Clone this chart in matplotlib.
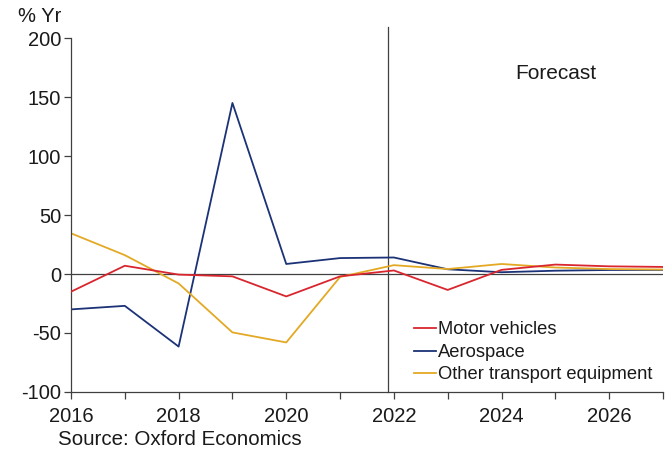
import matplotlib
matplotlib.use("Agg")
import matplotlib.pyplot as plt

plt.rcParams['font.family'] = ['Liberation Sans', 'DejaVu Sans']
plt.rcParams['axes.unicode_minus'] = False

years = list(range(2016, 2028))
motor_vehicles = [-15, 7, -0.5, -2, -19, -2, 3, -13.5, 3.5, 8, 6.5, 6]
aerospace = [-30, -27, -61.5, 145, 8.5, 13.5, 14, 4, 1.5, 2.8, 3.4, 3.5]
other_transport = [34.5, 16, -8, -49.5, -58, -2.5, 7.5, 4.2, 8.5, 5.5, 4.2, 3.8]
forecast_start = 2021.9

fig = plt.figure(figsize=(6.71, 4.53), dpi=100)
ax = fig.add_axes([0.1058, 0.1347, 0.8822, 0.7813])

ax.axhline(0, color='#404040', lw=0.9, zorder=1)
ax.plot([forecast_start, forecast_start], [-100, 209], color='#404040', lw=0.9,
        clip_on=False, zorder=1)

ax.plot(years, motor_vehicles, color='#d9262e', lw=1.3, label='Motor vehicles', zorder=3)
ax.plot(years, aerospace, color='#1b3277', lw=1.3, label='Aerospace', zorder=2)
ax.plot(years, other_transport, color='#e3a924', lw=1.3, label='Other transport equipment', zorder=2)

ax.set_xlim(2016, 2027)
ax.set_ylim(-100, 200)
ax.set_yticks(range(-100, 201, 50))
ax.set_xticks(years)
ax.set_xticklabels([str(y) if y % 2 == 0 else '' for y in years])

for s in ['top', 'right']:
    ax.spines[s].set_visible(False)
for s in ['left', 'bottom']:
    ax.spines[s].set_color('#404040')
    ax.spines[s].set_linewidth(0.9)
ax.tick_params(axis='both', direction='out', length=5, width=0.9, color='#404040',
               labelsize=14.5, labelcolor='#1a1a1a')
ax.tick_params(axis='x', pad=6)
ax.tick_params(axis='y', pad=2)

ax.text(2025.0, 170, 'Forecast', fontsize=15, ha='center', va='center', color='#1a1a1a')

leg = ax.legend(loc='lower right', bbox_to_anchor=(1.0, -0.007), frameon=False,
                fontsize=13.2, handlelength=1.2, handletextpad=0.1,
                labelspacing=0.3, borderaxespad=0.2)
for t in leg.get_texts():
    t.set_color('#1a1a1a')

fig.text(0.027, 0.985, '% Yr', fontsize=14.5, ha='left', va='top', color='#1a1a1a')
fig.text(0.086, 0.008, 'Source: Oxford Economics', fontsize=14.8, ha='left', va='bottom',
         color='#1a1a1a')

fig.savefig('out.png', dpi=100)
